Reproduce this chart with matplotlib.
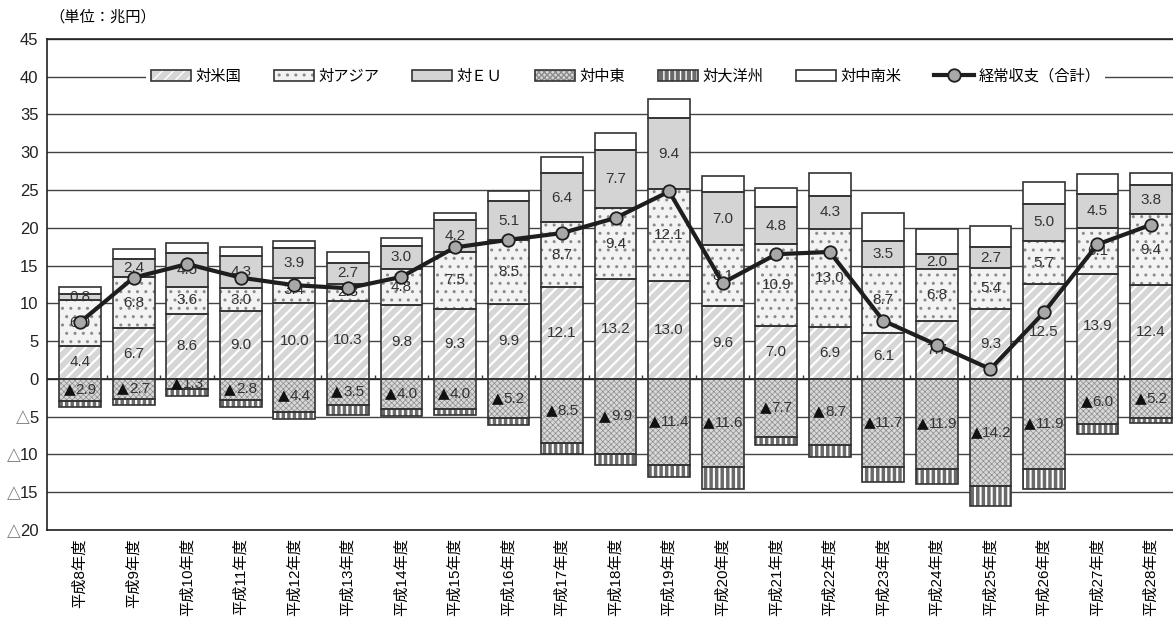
import numpy as np
import matplotlib.pyplot as plt
from matplotlib.patches import Patch
from matplotlib.lines import Line2D

plt.rcParams['font.family'] = ['Liberation Sans', 'Noto Sans CJK JP', 'DejaVu Sans']

years = ['平成8年度', '平成9年度', '平成10年度', '平成11年度', '平成12年度', '平成13年度',
         '平成14年度', '平成15年度', '平成16年度', '平成17年度', '平成18年度', '平成19年度',
         '平成20年度', '平成21年度', '平成22年度', '平成23年度', '平成24年度', '平成25年度',
         '平成26年度', '平成27年度', '平成28年度']

usa = [4.4, 6.7, 8.6, 9.0, 10.0, 10.3, 9.8, 9.3, 9.9, 12.1, 13.2,
       13.0, 9.6, 7.0, 6.9, 6.1, 7.7, 9.3, 12.5, 13.9, 12.4]
asia = [6.0, 6.8, 3.6, 3.0, 3.4, 2.3, 4.8, 7.5, 8.5, 8.7, 9.4,
        12.1, 8.1, 10.9, 13.0, 8.7, 6.8, 5.4, 5.7, 6.1, 9.4]
eu = [0.8, 2.4, 4.5, 4.3, 3.9, 2.7, 3.0, 4.2, 5.1, 6.4, 7.7,
      9.4, 7.0, 4.8, 4.3, 3.5, 2.0, 2.7, 5.0, 4.5, 3.8]
latam = [1.0, 1.3, 1.3, 1.1, 1.0, 1.5, 1.0, 1.0, 1.4, 2.2, 2.2,
         2.6, 2.2, 2.6, 3.0, 3.6, 3.3, 2.9, 2.9, 2.6, 1.6]
mideast = [-2.9, -2.7, -1.3, -2.8, -4.4, -3.5, -4.0, -4.0, -5.2, -8.5, -9.9,
           -11.4, -11.6, -7.7, -8.7, -11.7, -11.9, -14.2, -11.9, -6.0, -5.2]
oceania = [-0.8, -0.8, -1.0, -0.9, -0.9, -1.3, -0.9, -0.8, -0.9, -1.4, -1.5,
           -1.6, -3.0, -1.1, -1.6, -1.9, -2.0, -2.6, -2.7, -1.3, -0.6]
total = [7.5, 13.4, 15.2, 13.4, 12.4, 12.0, 13.5, 17.4, 18.4, 19.3, 21.3,
         24.8, 12.7, 16.5, 16.8, 7.7, 4.5, 1.3, 8.8, 17.8, 20.4]

usa = np.array(usa)
asia = np.array(asia)
eu = np.array(eu)
latam = np.array(latam)
mideast = np.array(mideast)
oceania = np.array(oceania)

x = np.arange(len(years))
w = 0.78
edge = '#333333'

fig = plt.figure(figsize=(11.73, 6.17), dpi=100)
ax = fig.add_axes([0.040, 0.141, 0.960, 0.796])

# face, hatch, hatch colour, hatch linewidth
styles = {
    '対米国': ('#d6d6d6', '///', 'white', 1.6),
    '対アジア': ('#f3f3f3', '..', '#8a8a8a', 1.0),
    '対ＥＵ': ('#d4d4d4', None, '#d4d4d4', 1.0),
    '対中東': ('#d8d8d8', 'xxxxxx', '#8c8c8c', 0.5),
    '対大洋州': ('#6a6a6a', '|||', 'white', 1.5),
    '対中南米': ('white', None, 'white', 1.0),
}


def layer(vals, bottom, name):
    face, hatch, hcol, hlw = styles[name]
    with plt.rc_context({'hatch.linewidth': hlw}):
        ax.bar(x, vals, w, bottom=bottom, color=face, hatch=hatch,
               edgecolor=hcol, linewidth=0, zorder=2)
    ax.bar(x, vals, w, bottom=bottom, fill=False, edgecolor=edge,
           linewidth=1.2, zorder=3)


layer(usa, 0, '対米国')
layer(asia, usa, '対アジア')
layer(eu, usa + asia, '対ＥＵ')
layer(latam, usa + asia + eu, '対中南米')
layer(mideast, 0, '対中東')
layer(oceania, mideast, '対大洋州')

ax.plot(x, total, color='#1e1e1e', lw=3, marker='o', ms=9,
        mfc='#a8a8a8', mec='#1e1e1e', mew=1.3, zorder=6)

# value labels
lab = dict(ha='center', va='center', fontsize=11, color='#333333', zorder=5)
for i in x:
    ax.text(i, usa[i] / 2, f'{usa[i]:.1f}', **lab)
    ax.text(i, usa[i] + asia[i] / 2, f'{asia[i]:.1f}', **lab)
    ax.text(i, usa[i] + asia[i] + eu[i] / 2, f'{eu[i]:.1f}', **lab)
    s = f'{-mideast[i]:.1f}'
    split = i - 0.09 - 0.06 * (len(s) - 3)
    ax.text(split, mideast[i] / 2, '▲', ha='right', va='center', fontsize=11,
            color='#111111', zorder=5, family=['DejaVu Sans'])
    ax.text(split, mideast[i] / 2, s, ha='left', va='center',
            fontsize=11, color='#333333', zorder=5)

# small ticks on the zero line between categories
ax.vlines(x[:-1] + 0.5, 0, 0.5, color=edge, lw=1, zorder=2)
ax.axhline(0, color='#222222', lw=1.2, zorder=1.5)

ax.set_xlim(-0.62, 20.41)
ax.set_ylim(-20, 45)
yt = list(range(-20, 46, 5))
ax.set_yticks(yt)
ax.set_yticklabels([str(abs(v)) for v in yt], fontsize=12, color='#222222')
# negative values are written with a grey △ in front
for v in yt:
    if v < 0:
        nd = len(str(-v))
        ax.annotate('△', xy=(0, v), xycoords=('axes fraction', 'data'),
                    xytext=(-5.5 - 6.7 * nd, -0.5), textcoords='offset points',
                    ha='right', va='center', fontsize=13, color='#8a8a8a',
                    family=['DejaVu Sans'], annotation_clip=False)
ax.set_xticks(x)
ax.set_xticklabels(years, rotation=90, fontsize=11, va='top')
ax.tick_params(length=0, pad=6)
ax.yaxis.grid(True, color='#444444', lw=1)
ax.set_axisbelow(True)
for s in ['left', 'top', 'bottom']:
    ax.spines[s].set_color('#222222')
    ax.spines[s].set_linewidth(1.2)
ax.spines['right'].set_visible(False)

handles = []
names = ['対米国', '対アジア', '対ＥＵ', '対中東', '対大洋州', '対中南米']
for n in names:
    face, hatch, hcol, hlw = styles[n]
    with plt.rc_context({'hatch.linewidth': hlw}):
        p1 = Patch(facecolor=face, hatch=hatch, edgecolor=hcol, linewidth=0)
    p2 = Patch(fill=False, edgecolor=edge, linewidth=1.2)
    handles.append((p1, p2))
handles.append(Line2D([], [], color='#1e1e1e', lw=3, marker='o', ms=9,
                      mfc='#a8a8a8', mec='#1e1e1e', mew=1.3))
leg = ax.legend(handles, names + ['経常収支（合計）'], ncol=7, loc='center',
                bbox_to_anchor=(0.514, 0.923), fontsize=11, frameon=True,
                facecolor='white', framealpha=1, edgecolor='none',
                handlelength=2.6, handleheight=0.8, columnspacing=2.15,
                handletextpad=0.3, borderpad=0.3)
leg.set_zorder(10)

fig.text(0.042, 0.972, '（単位：兆円）', fontsize=11, va='center', ha='left')

fig.savefig('out.png', dpi=100)
